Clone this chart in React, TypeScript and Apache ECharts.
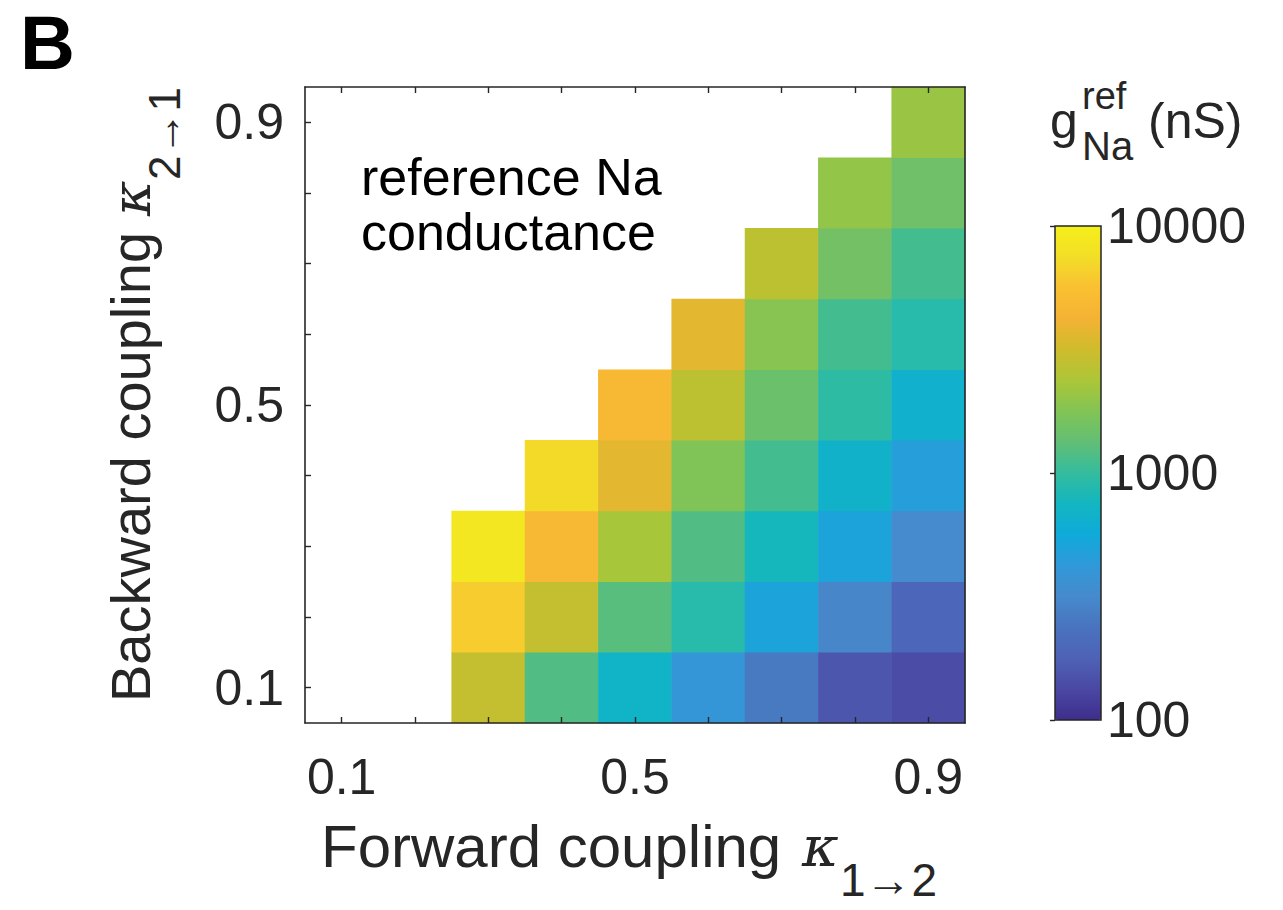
import React, { useEffect, useRef } from 'react';
import * as echarts from 'echarts';

// Coupling strengths (category axes)
const xCategories = ['0.1', '0.2', '0.3', '0.4', '0.5', '0.6', '0.7', '0.8', '0.9'];
const yCategories = ['0.1', '0.2', '0.3', '0.4', '0.5', '0.6', '0.7', '0.8', '0.9'];
const shownTickLabels = ['0.1', '0.5', '0.9'];
const colorbarTicks = [100, 1000, 10000];

// Reference Na conductance g_Na^ref (nS), per forward coupling column, from backward coupling 0.1 upward
const gNaForward03 = [2900, 6300, 8600];
const gNaForward04 = [1200, 2900, 4800, 7200];
const gNaForward05 = [700, 1250, 2300, 3700, 4800];
const gNaForward06 = [400, 900, 1200, 1750, 2700, 3700];
const gNaForward07 = [260, 500, 770, 1100, 1450, 1850, 2700];
const gNaForward08 = [155, 300, 500, 670, 950, 1100, 1550, 2000];
const gNaForward09 = [140, 195, 320, 460, 650, 900, 1100, 1500, 2100];

const columns: [string, number[]][] = [
  ['0.3', gNaForward03],
  ['0.4', gNaForward04],
  ['0.5', gNaForward05],
  ['0.6', gNaForward06],
  ['0.7', gNaForward07],
  ['0.8', gNaForward08],
  ['0.9', gNaForward09],
];

// parula-like colormap as it appears in the figure
const colormap = [
  '#3e2d8c', '#4a48a3', '#4e62b6', '#4973be', '#468acc', '#3099d9',
  '#0faada', '#12b6c0', '#34bc9e', '#62be75', '#82c455', '#acc637',
  '#cfbc2d', '#f5b234', '#fac032', '#f2de28', '#f5f019',
];

const FONT = 'Liberation Sans, Arial, Helvetica, sans-serif';
const INK = '#262626';

export default function App() {
  const ref = useRef<HTMLDivElement>(null);

  useEffect(() => {
    if (!ref.current) return;
    const chart = echarts.init(ref.current, undefined, { renderer: 'svg' });

    const data: number[][] = [];
    columns.forEach(([xc, vals]) => {
      const xi = xCategories.indexOf(xc);
      vals.forEach((v, j) => {
        data.push([xi, j, v, Math.log10(v)]);
      });
    });

    const axisLineStyle = { color: INK, width: 1.6 };
    const tickStyle = { color: INK, width: 1.4 };

    const option: any = {
      animation: false,
      backgroundColor: '#ffffff',
      grid: [
        { left: 305, top: 87, width: 660, height: 636 },
        { left: 1055, top: 226, width: 46, height: 494 },
      ],
      xAxis: [
        {
          gridIndex: 0,
          type: 'category',
          data: xCategories,
          position: 'bottom',
          z: 10,
          axisLine: { show: true, lineStyle: axisLineStyle },
          axisTick: { show: true, inside: true, alignWithLabel: true, interval: 0, length: 6, lineStyle: tickStyle },
          axisLabel: {
            interval: (i: number) => shownTickLabels.includes(xCategories[i]),
            fontSize: 50,
            fontFamily: FONT,
            color: INK,
            margin: 29,
          },
          splitLine: { show: false },
        },
        {
          gridIndex: 0,
          type: 'category',
          data: xCategories,
          position: 'top',
          z: 10,
          axisLine: { show: true, lineStyle: axisLineStyle },
          axisTick: { show: true, inside: true, alignWithLabel: true, interval: 0, length: 6, lineStyle: tickStyle },
          axisLabel: { show: false },
          splitLine: { show: false },
        },
        { gridIndex: 1, type: 'value', show: false, min: 0, max: 1 },
      ],
      yAxis: [
        {
          gridIndex: 0,
          type: 'category',
          data: yCategories,
          position: 'left',
          z: 10,
          axisLine: { show: true, lineStyle: axisLineStyle },
          axisTick: { show: true, inside: true, alignWithLabel: true, interval: 0, length: 6, lineStyle: tickStyle },
          axisLabel: {
            interval: (i: number) => shownTickLabels.includes(yCategories[i]),
            fontSize: 50,
            fontFamily: FONT,
            color: INK,
            margin: 21,
          },
          splitLine: { show: false },
        },
        {
          gridIndex: 0,
          type: 'category',
          data: yCategories,
          position: 'right',
          z: 10,
          axisLine: { show: true, lineStyle: axisLineStyle },
          axisTick: { show: false },
          axisLabel: { show: false },
          splitLine: { show: false },
        },
        {
          gridIndex: 1,
          type: 'log',
          logBase: 10,
          min: colorbarTicks[0],
          max: colorbarTicks[colorbarTicks.length - 1],
          position: 'right',
          z: 10,
          axisLine: { show: false },
          axisTick: { show: true, inside: true, length: 5, lineStyle: tickStyle },
          axisLabel: {
            fontSize: 50,
            fontFamily: FONT,
            color: INK,
            margin: 6,
            formatter: (v: number) => String(Math.round(v)),
          },
          splitLine: { show: false },
        },
      ],
      visualMap: {
        type: 'continuous',
        min: Math.log10(colorbarTicks[0]),
        max: Math.log10(colorbarTicks[colorbarTicks.length - 1]),
        dimension: 3,
        seriesIndex: 0,
        calculable: false,
        hoverLink: false,
        left: 1055,
        top: 226,
        padding: 0,
        itemWidth: 46,
        itemHeight: 494,
        inRange: { color: colormap },
      },
      series: [
        {
          type: 'heatmap',
          xAxisIndex: 0,
          yAxisIndex: 0,
          data,
          itemStyle: { borderWidth: 0 },
          emphasis: { disabled: true },
        },
      ],
      graphic: [
        {
          type: 'text',
          x: 20,
          y: 42,
          style: { text: 'B', fontSize: 76, fontWeight: 'bold', fontFamily: FONT, fill: '#000', verticalAlign: 'middle' },
        },
        {
          type: 'text',
          x: 361,
          y: 195 - 18,
          style: { text: 'reference Na', fontSize: 52, fontFamily: FONT, fill: '#000', verticalAlign: 'middle' },
        },
        {
          type: 'text',
          x: 361,
          y: 250 - 18,
          style: { text: 'conductance', fontSize: 52, fontFamily: FONT, fill: '#000', verticalAlign: 'middle' },
        },
        // x axis title: Forward coupling κ_{1→2}
        {
          type: 'text',
          x: 321,
          y: 846,
          style: { text: 'Forward coupling', fontSize: 60, fontFamily: FONT, fill: INK, verticalAlign: 'middle' },
        },
        {
          type: 'text',
          x: 802,
          y: 846,
          style: { text: 'κ', fontSize: 56, fontFamily: 'DejaVu Serif', fontStyle: 'italic', fill: INK, verticalAlign: 'middle' },
        },
        {
          type: 'text',
          x: 840,
          y: 880,
          style: { text: '1→2', fontSize: 46, fontFamily: FONT, fill: INK, verticalAlign: 'middle' },
        },
        // y axis title (rotated): Backward coupling κ_{2→1}
        {
          type: 'text',
          x: 130,
          y: 702,
          rotation: Math.PI / 2,
          style: { text: 'Backward coupling', fontSize: 56, fontFamily: FONT, fill: INK, verticalAlign: 'middle' },
        },
        {
          type: 'text',
          x: 131,
          y: 216,
          rotation: Math.PI / 2,
          style: { text: 'κ', fontSize: 54, fontFamily: 'DejaVu Serif', fontStyle: 'italic', fill: INK, verticalAlign: 'middle' },
        },
        {
          type: 'text',
          x: 164,
          y: 180,
          rotation: Math.PI / 2,
          style: { text: '2→1', fontSize: 44, fontFamily: FONT, fill: INK, verticalAlign: 'middle' },
        },
        // colorbar title g_Na^ref (nS)
        {
          type: 'text',
          x: 1050,
          y: 138 - 17,
          style: { text: 'g', fontSize: 50, fontFamily: FONT, fill: INK, verticalAlign: 'middle' },
        },
        {
          type: 'text',
          x: 1082,
          y: 109 - 13,
          style: { text: 'ref', fontSize: 38, fontFamily: FONT, fill: INK, verticalAlign: 'middle' },
        },
        {
          type: 'text',
          x: 1082,
          y: 160 - 14,
          style: { text: 'Na', fontSize: 40, fontFamily: FONT, fill: INK, verticalAlign: 'middle' },
        },
        {
          type: 'text',
          x: 1148,
          y: 138 - 17,
          style: { text: '(nS)', fontSize: 50, fontFamily: FONT, fill: INK, verticalAlign: 'middle' },
        },
        // colorbar frame
        {
          type: 'rect',
          z: 100,
          shape: { x: 1055, y: 226, width: 46, height: 494 },
          style: { fill: 'none', stroke: INK, lineWidth: 1.5 },
        },
      ],
    };

    chart.setOption(option);
    return () => chart.dispose();
  }, []);

  return (
    <div
      ref={ref}
      style={{ position: 'fixed', left: 0, top: 0, width: 1283, height: 910, background: '#fff' }}
    />
  );
}
